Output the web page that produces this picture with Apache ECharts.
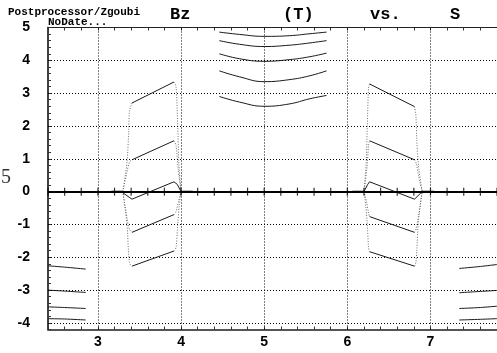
<!DOCTYPE html>
<html>
<head>
<meta charset="utf-8">
<script src="https://cdn.jsdelivr.net/npm/echarts@6/dist/echarts.min.js"></script>
<style>
  html, body { margin: 0; padding: 0; background: #fff; }
  #chart { width: 497px; height: 353px; }
</style>
</head>
<body>
<div id="chart"></div>
<script>
// ---- Axes: S (m) horizontally, Bz (T) vertically ----
const X_RANGE = [2.4, 7.8];
const Y_RANGE = [-4.2, 5];
const X_TICK_LABELS = [3, 4, 5, 6, 7];
const Y_TICK_LABELS = [-4, -3, -2, -1, 0, 1, 2, 3, 4, 5];
const X_GRID_LINES = [3, 4, 5, 6, 7];
const Y_GRID_LINES = [-4, -3, -2, -1, 1, 2, 3, 4];
const MINOR_STEP = 0.2;

// ---- Outer magnets, only partly inside the S window ----
const S_OUTER_LEFT = [2.4, 2.6, 2.853];
const BZ_OUTER_LEFT = [
  [-2.26, -2.30, -2.36],
  [-3.00, -3.03, -3.07],
  [-3.51, -3.53, -3.56],
  [-3.87, -3.88, -3.91]
];
const S_OUTER_RIGHT = [7.347, 7.6, 7.8];
const BZ_OUTER_RIGHT = [
  [-2.34, -2.28, -2.22],
  [-3.08, -3.04, -3.01],
  [-3.56, -3.53, -3.49],
  [-3.91, -3.89, -3.87]
];

// ---- Field-free stretches (S start, S end) ----
const DRIFTS = [[3.16, 3.30], [4.0, 4.14], [6.06, 6.2], [6.9, 7.04]];

// ---- Left and right D magnets, body field at entry / exit ----
const S_BODY_LEFT = [3.41, 3.915];
const BZ_BODY_LEFT = [
  [2.70, 3.34],
  [0.97, 1.55],
  [-0.23, 0.30],
  [-1.24, -0.70],
  [-2.27, -1.81]
];
const S_BODY_RIGHT = [6.267, 6.808];
const BZ_BODY_RIGHT = [
  [3.28, 2.59],
  [1.55, 0.97],
  [0.30, -0.23],
  [-0.76, -1.24],
  [-1.83, -2.27]
];

// ---- Central F magnet ----
const S_CENTRAL = [4.46, 4.7, 5.0, 5.3, 5.55, 5.75];
const BZ_CENTRAL = [
  [4.86, 4.79, 4.73, 4.75, 4.81, 4.86],
  [4.60, 4.49, 4.42, 4.46, 4.53, 4.60],
  [4.20, 4.05, 3.97, 4.02, 4.11, 4.22],
  [3.68, 3.50, 3.35, 3.41, 3.53, 3.68],
  [2.90, 2.73, 2.60, 2.67, 2.83, 2.93]
];

// ---- Fringe fields, [S, Bz] points (steep, sparsely sampled) ----
const FRINGE_LEFT_IN = [
  [[3.30, 0], [3.35, 0.9], [3.37, 1.8], [3.38, 2.45], [3.41, 2.70]],
  [[3.30, 0], [3.35, 0.6], [3.38, 0.9], [3.41, 0.97]],
  [[3.30, 0], [3.35, -0.8], [3.38, -1.15], [3.41, -1.24]],
  [[3.30, 0], [3.35, -1.0], [3.37, -1.9], [3.385, -2.2], [3.41, -2.27]]
];
const FRINGE_LEFT_OUT = [
  [[3.915, 3.34], [3.94, 3.2], [3.96, 2.0], [3.975, 0.8], [4.0, 0]],
  [[3.915, 1.55], [3.94, 1.4], [3.965, 0.7], [4.0, 0]],
  [[3.915, -0.70], [3.94, -0.6], [3.97, -0.3], [4.0, 0]],
  [[3.915, -1.81], [3.94, -1.7], [3.96, -1.0], [3.98, -0.4], [4.0, 0]]
];
const FRINGE_RIGHT_IN = [
  [[6.2, 0], [6.225, 0.8], [6.24, 2.0], [6.255, 3.15], [6.267, 3.28]],
  [[6.2, 0], [6.235, 0.7], [6.255, 1.4], [6.267, 1.55]],
  [[6.2, 0], [6.23, -0.3], [6.255, -0.65], [6.267, -0.76]],
  [[6.2, 0], [6.22, -0.4], [6.24, -1.0], [6.255, -1.7], [6.267, -1.83]]
];
const FRINGE_RIGHT_OUT = [
  [[6.808, 2.59], [6.825, 2.3], [6.835, 1.6], [6.855, 0.8], [6.9, 0]],
  [[6.808, 0.97], [6.83, 0.85], [6.855, 0.5], [6.9, 0]],
  [[6.808, -1.24], [6.83, -1.12], [6.855, -0.75], [6.9, 0]],
  [[6.808, -2.27], [6.825, -2.15], [6.835, -1.8], [6.855, -0.9], [6.9, 0]]
];
// the near-axis trajectory has gentle edges, sampled densely enough to look solid
const EDGES_SOLID = [
  [[3.28, 0], [3.41, -0.23]],
  [[3.915, 0.30], [3.955, 0.22], [4.0, 0]],
  [[6.2, 0], [6.245, 0.22], [6.267, 0.30]],
  [[6.808, -0.23], [6.9, 0]]
];

// ---- helpers ----
function minorTicks(lo, hi) {
  const out = [];
  const n = Math.round((hi - lo) / MINOR_STEP);
  for (let i = 0; i <= n; i++) out.push(+(lo + i * MINOR_STEP).toFixed(2));
  return out;
}
const zip = (xs, ys) => xs.map((x, i) => [x, ys[i]]);

const SOLID = { color: '#1a1a1a', width: 1 };
const FRINGE = { color: '#6e6e6e', width: 1, type: [1, 1.6] };

function line(points, style, z, smooth) {
  return {
    type: 'line', data: points, symbol: 'none', silent: true,
    animation: false, lineStyle: style, z: z || 3, clip: true,
    smooth: smooth || false
  };
}

const series = [];

// grid lines and the Bz = 0 axis
series.push({
  type: 'line', data: [], silent: true, animation: false, z: 1,
  markLine: {
    symbol: ['none', 'none'], silent: true, animation: false,
    label: { show: false },
    lineStyle: { type: [1, 2], color: '#000', width: 1 },
    data: [
      ...X_GRID_LINES.map(v => ({ xAxis: v })),
      ...Y_GRID_LINES.map(v => ({ yAxis: v })),
      { yAxis: 0, lineStyle: { type: 'solid', width: 2, color: '#000' } }
    ]
  }
});

// small cross ticks along Bz = 0
series.push({
  type: 'scatter', silent: true, animation: false, z: 2,
  symbol: 'rect', symbolSize: [1.2, 8],
  itemStyle: { color: '#000' },
  data: minorTicks(X_RANGE[0], X_RANGE[1]).map(s => [s, 0])
});

BZ_OUTER_LEFT.forEach(b => series.push(line(zip(S_OUTER_LEFT, b), SOLID, 3, 0.3)));
BZ_OUTER_RIGHT.forEach(b => series.push(line(zip(S_OUTER_RIGHT, b), SOLID, 3, 0.3)));
DRIFTS.forEach(d => series.push(line([[d[0], 0], [d[1], 0]], { color: '#000', width: 2 })));
BZ_BODY_LEFT.forEach(b => series.push(line(zip(S_BODY_LEFT, b), SOLID)));
BZ_BODY_RIGHT.forEach(b => series.push(line(zip(S_BODY_RIGHT, b), SOLID)));
BZ_CENTRAL.forEach(b => series.push(line(zip(S_CENTRAL, b), SOLID, 3, 0.45)));
EDGES_SOLID.forEach(p => series.push(line(p, SOLID)));
[FRINGE_LEFT_IN, FRINGE_LEFT_OUT, FRINGE_RIGHT_IN, FRINGE_RIGHT_OUT]
  .forEach(group => group.forEach(p => series.push(line(p, FRINGE, 2, 0.3))));

const tickFont = { fontFamily: 'Liberation Sans', fontWeight: 'bold', fontSize: 14, color: '#000' };
const mono = 'Liberation Mono';

const chart = echarts.init(document.getElementById('chart'), null, { renderer: 'canvas' });
chart.setOption({
  animation: false,
  backgroundColor: '#fff',
  grid: { left: 48, top: 27.5, width: 450, height: 302, containLabel: false },
  xAxis: [
    {
      type: 'value', position: 'bottom', min: X_RANGE[0], max: X_RANGE[1],
      axisLine: { onZero: false, lineStyle: { color: '#555', width: 2 } },
      axisTick: { inside: true, length: 3, customValues: minorTicks(X_RANGE[0], X_RANGE[1]),
                  lineStyle: { color: '#333' } },
      axisLabel: { ...tickFont, margin: 6, customValues: X_TICK_LABELS },
      splitLine: { show: false }
    },
    {
      type: 'value', position: 'top', min: X_RANGE[0], max: X_RANGE[1],
      axisLine: { onZero: false, lineStyle: { color: '#222', width: 1 } },
      axisTick: { inside: true, length: 3, customValues: minorTicks(X_RANGE[0], X_RANGE[1]),
                  lineStyle: { color: '#333' } },
      axisLabel: { show: false },
      splitLine: { show: false }
    }
  ],
  yAxis: {
    type: 'value', position: 'left', min: Y_RANGE[0], max: Y_RANGE[1],
    axisLine: { onZero: false, lineStyle: { color: '#000', width: 1.5 } },
    axisTick: { inside: true, length: 3, customValues: minorTicks(Y_RANGE[0], Y_RANGE[1]),
                lineStyle: { color: '#333' } },
    axisLabel: { ...tickFont, margin: 18, customValues: Y_TICK_LABELS,
                 formatter: v => String(v) },
    splitLine: { show: false }
  },
  graphic: [
    { type: 'text', left: 8, top: 7,
      style: { text: 'Postprocessor/Zgoubi', font: `bold 11px "${mono}"`, fill: '#000' } },
    { type: 'text', left: 48, top: 17,
      style: { text: 'NoDate...', font: `bold 11px "${mono}"`, fill: '#000' } },
    { type: 'text', left: 170, top: 6,
      style: { text: 'Bz', font: `bold 17px "${mono}"`, fill: '#000' } },
    { type: 'text', left: 283, top: 6,
      style: { text: '(T)', font: `bold 17px "${mono}"`, fill: '#000' } },
    { type: 'text', left: 370, top: 6,
      style: { text: 'vs.', font: `bold 17px "${mono}"`, fill: '#000' } },
    { type: 'text', left: 450, top: 6,
      style: { text: 'S', font: `bold 17px "${mono}"`, fill: '#000' } },
    { type: 'text', left: 1, top: 168,
      style: { text: '5', font: '20px "Liberation Serif"', fill: '#333' } }
  ],
  series
});
</script>
</body>
</html>
